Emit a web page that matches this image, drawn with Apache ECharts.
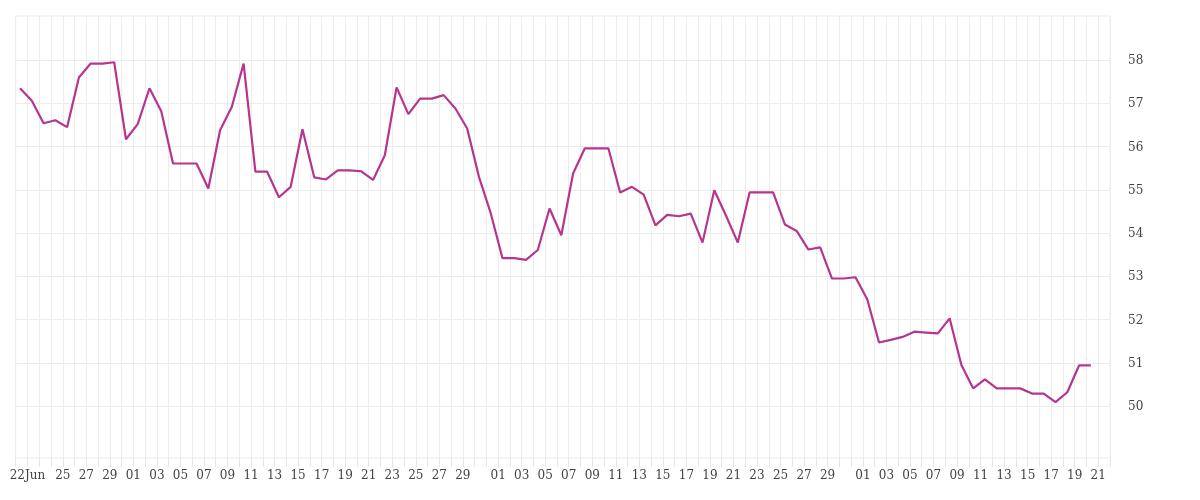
<!DOCTYPE html>
<html><head><meta charset="utf-8">
<script src="https://cdn.jsdelivr.net/npm/echarts@6/dist/echarts.min.js"></script>
<style>html,body{margin:0;padding:0;background:#fff}#c{width:1200px;height:500px}</style>
</head><body><div id="c"></div>
<script>
const startDate = '2024-06-21';
const values = [57.35,57.06,56.54,56.61,56.45,57.60,57.92,57.92,57.95,56.17,56.52,57.35,56.82,55.61,55.61,55.61,55.03,56.38,56.92,57.92,
55.42,55.42,54.83,55.07,56.40,55.29,55.24,55.45,55.45,55.43,55.23,55.80,57.37,56.75,57.11,57.11,57.19,56.88,56.42,55.30,
54.46,53.42,53.42,53.38,53.61,54.57,53.95,55.38,55.96,55.96,55.96,54.94,55.07,54.89,54.18,54.42,54.39,54.45,53.78,54.99,
54.40,53.78,54.94,54.94,54.94,54.20,54.05,53.62,53.67,52.95,52.95,52.98,52.47,51.47,51.53,51.60,51.72,51.70,51.68,52.03,
50.95,50.41,50.62,50.41,50.41,50.41,50.29,50.29,50.09,50.32,50.94,50.94];
const yTicks = [50,51,52,53,54,55,56,57,58];

const base = new Date(startDate + 'T00:00:00Z');
function dayOf(n){ return new Date(base.getTime() + n*86400000); }
const data = values.map((v,i)=>[i+0.37, v]);

const chart = echarts.init(document.getElementById('c'));
chart.setOption({
  animation:false,
  grid:{left:15.7,right:90,top:16,bottom:42,show:true,borderColor:'#ececec',borderWidth:1},
  xAxis:{type:'value',min:0,max:93,interval:1,
    axisLine:{show:false},
    axisTick:{show:true,length:9,lineStyle:{color:'#e6e6e6'}},
    splitLine:{show:true,lineStyle:{color:'#ececec'}},
    axisLabel:{color:'#444',fontFamily:'DejaVu Serif',fontSize:12,margin:12,
      formatter:function(v){
        const d = dayOf(Math.round(v)); const dd = d.getUTCDate(); const m = d.getUTCMonth();
        if (m===5 && dd===22) return '22Jun';
        if (m===5 && dd<25) return '';
        if (dd===31) return '';
        if (dd%2===1) return (dd<10?'0':'')+dd;
        return '';
      }}},
  yAxis:{type:'value',position:'right',min:48.8,max:59.02,
    axisLine:{show:false},axisTick:{show:false},splitLine:{show:false},
    axisLabel:{customValues:yTicks,color:'#444',fontFamily:'DejaVu Serif',fontSize:12,margin:18,verticalAlign:'top',padding:[-5,0,0,0]}},
  series:[
    {type:'line',z:1,data:[],markLine:{silent:true,symbol:'none',label:{show:false},animation:false,
      lineStyle:{color:'#ececec',type:'solid',width:1},data:yTicks.map(t=>({yAxis:t}))}},
    {type:'line',z:5,data:data,symbol:'none',lineStyle:{color:'#b5358f',width:2.2}}]
});
</script></body></html>
